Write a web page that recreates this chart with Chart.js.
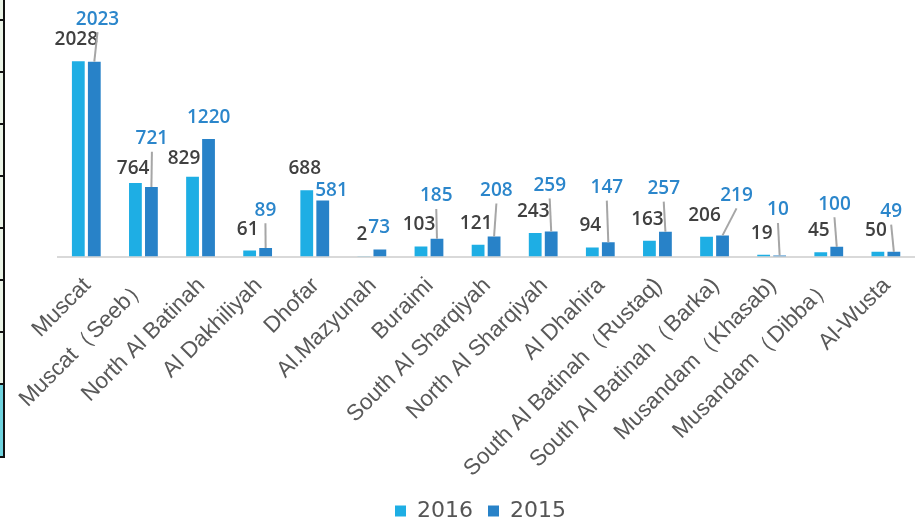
<!DOCTYPE html>
<html>
<head>
<meta charset="utf-8">
<script src="https://cdn.jsdelivr.net/npm/chart.js@4/dist/chart.umd.min.js"></script>
<style>
  html, body { margin: 0; padding: 0; background: #ffffff; overflow: hidden; width: 921px; height: 523px; }
  #wrap { position: absolute; left: 0; top: 0; width: 921px; height: 532px; }
  #edge { position: absolute; left: 0; top: 0; width: 3px; height: 456px; background: #eaf3e6;
          border-right: 2px solid #111; border-bottom: 2px solid #111; }
  #edge .cyan { position: absolute; left: 0; top: 384px; width: 3px; height: 72px; background: #6fd3de; }
  #edge .tick { position: absolute; left: 0; width: 3px; height: 2px; background: #111; }
</style>
</head>
<body>
<div id="wrap"><canvas id="c"></canvas></div>
<div id="edge">
  <div class="cyan"></div>
  <div class="tick" style="top:19px"></div>
  <div class="tick" style="top:71px"></div>
  <div class="tick" style="top:123px"></div>
  <div class="tick" style="top:175px"></div>
  <div class="tick" style="top:227px"></div>
  <div class="tick" style="top:279px"></div>
  <div class="tick" style="top:331px"></div>
  <div class="tick" style="top:383px"></div>
</div>
<script>
const categories = [
  "Muscat", "Muscat\uFF08Seeb\uFF09", "North Al Batinah", "Al Dakhiliyah", "Dhofar",
  "Al.Mazyunah", "Buraimi", "South Al Sharqiyah", "North Al Sharqiyah", "Al Dhahira",
  "South Al Batinah\uFF08Rustaq)", "South Al Batinah\uFF08Barka)", "Musandam\uFF08Khasab)",
  "Musandam\uFF08Dibba\uFF09", "Al-Wusta"
];
const values2016 = [2028, 764, 829, 61, 688, 2, 103, 121, 243, 94, 163, 206, 19, 45, 50];
const values2015 = [2023, 721, 1220, 89, 581, 73, 185, 208, 259, 147, 257, 219, 10, 100, 49];
const seriesNames = ["2016", "2015"];

// label placement (style only): [dx, dy, leader]
const labelDefault = [[-2, -22.5, false], [-1, -44, true]];
const labelOverrides = [
  {1: [-2.3, -15.5, false], 2: [-8.5, -19.3, false]},
  {0: [3.2, -43.5, true], 1: [0.5, -49.4, true], 2: [0.2, -22.2, false], 3: [-0.2, -38.7, true],
   4: [8.8, -11.4, false], 5: [-0.7, -23, false], 6: [-0.7, -43.7, true], 7: [2.3, -47, true],
   8: [-1.5, -47.1, true], 9: [-1.5, -55.7, true], 10: [-1.7, -44.1, true], 11: [14, -41, true],
   12: [-1.7, -46.5, true], 13: [-2.3, -43.6, true], 14: [-2.7, -41.1, true]}
];
const labelColors = ["#404040", "#2b86cb"];

const dataLabels = {
  id: 'dataLabels',
  afterDatasetsDraw(chart) {
    const ctx = chart.ctx;
    ctx.save();
    ctx.font = '600 19px "Open Sans"';
    ctx.textAlign = 'center';
    ctx.textBaseline = 'middle';
    chart.data.datasets.forEach((ds, di) => {
      const meta = chart.getDatasetMeta(di);
      meta.data.forEach((bar, i) => {
        const o = labelOverrides[di][i] || labelDefault[di];
        const lx = bar.x + o[0], ly = bar.y + o[1];
        if (o[2]) {
          ctx.strokeStyle = '#a6a6a6';
          ctx.lineWidth = 2;
          ctx.beginPath();
          ctx.moveTo(lx, ly + 14);
          ctx.lineTo(bar.x, bar.y);
          ctx.stroke();
        }
        ctx.fillStyle = labelColors[di];
        ctx.fillText(String(ds.data[i]), lx, ly + 1);
      });
    });
    ctx.restore();
  }
};

new Chart(document.getElementById('c'), {
  type: 'bar',
  data: {
    labels: categories,
    datasets: [
      { label: seriesNames[0], data: values2016, backgroundColor: '#1eaee4' },
      { label: seriesNames[1], data: values2015, backgroundColor: '#2882c8' }
    ]
  },
  options: {
    responsive: true,
    maintainAspectRatio: false,
    animation: false,
    categoryPercentage: 0.56,
    barPercentage: 0.8,
    layout: { padding: { left: 41, right: 1, top: 15.7, bottom: 0 } },
    plugins: {
      tooltip: { enabled: false },
      legend: {
        position: 'bottom',
        labels: {
          boxWidth: 11, boxHeight: 11, padding: 15, color: '#555555',
          font: { family: 'DejaVu Sans', size: 22 }
        }
      }
    },
    scales: {
      y: {
        display: true, min: 0, max: 2500,
        grid: { display: false, drawTicks: false },
        border: { display: false },
        ticks: { display: false },
        afterFit(scale) { scale.width = 16.75; }
      },
      x: {
        grid: { display: false, drawTicks: false },
        border: { display: true, color: '#d9d9d9', width: 2 },
        ticks: {
          autoSkip: false, maxRotation: 45, minRotation: 45,
          padding: 16, labelOffset: 1,
          color: '#595959', font: { family: 'Liberation Sans', size: 22.5 }
        },
        afterFit(scale) { scale.height = 228.5; }
      }
    }
  },
  plugins: [dataLabels]
});
</script>
</body>
</html>
